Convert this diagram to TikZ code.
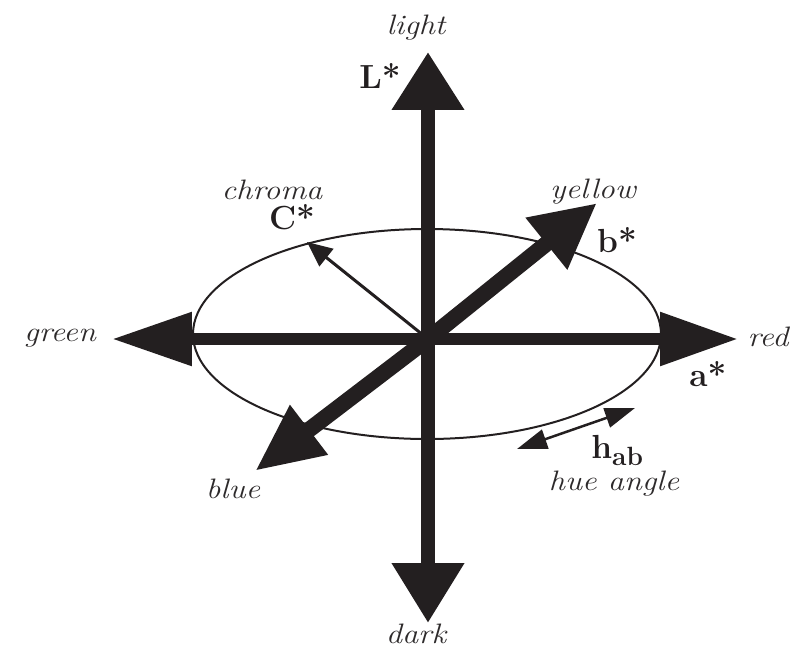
\documentclass[tikz,border=0pt]{standalone}
\usetikzlibrary{arrows.meta}

\definecolor{ink}{RGB}{35,31,32}
\definecolor{txt}{RGB}{45,42,43}

\tikzset{
  word/.style={text=txt, font=\fontsize{16}{18}\selectfont\itshape, xscale=1.15, inner sep=0pt},
  letter/.style={text=ink, font=\fontsize{19}{22}\selectfont\bfseries, inner sep=0pt},
}

\begin{document}
\begin{tikzpicture}[x=0.02cm, y=-0.02cm]

   \useasboundingbox (0,0) rectangle (795,650);

   % axes ends
   \coordinate (O) at (428,339);
   \coordinate (up) at (428,52);
   \coordinate (down) at (428,623);
   \coordinate (left) at (112,339);
   \coordinate (right) at (738,339);
   \coordinate (yel) at (597,203);
   \coordinate (blu) at (255,471);
   \coordinate (chr) at (307,242);
   \coordinate (hue1) at (517,449);
   \coordinate (hue2) at (635,408);

   \draw [ink, line width=0.04cm] (427,334) ellipse [x radius=234, y radius=105];

   \draw [ink, line width=0.28cm, {Triangle[length=1.2cm,width=1.38cm]}-{Triangle[length=1.16cm,width=1.38cm]}] (down) -- (up);
   \draw [ink, line width=0.24cm, {Triangle[length=1.6cm,width=1.02cm]}-{Triangle[length=1.56cm,width=1.02cm]}] (left) -- (right);
   \draw [ink, line width=0.32cm, {Triangle[length=1.36cm,width=1.16cm]}-{Triangle[length=1.3cm,width=1.24cm]}] (blu) -- (O) -- (yel);

   \draw [ink, line width=0.06cm, -{Triangle[length=0.5cm,width=0.44cm]}] (O) -- (chr);
   \draw [ink, line width=0.05cm, {Triangle[length=0.6cm,width=0.4cm]}-{Triangle[length=0.6cm,width=0.4cm]}] (hue1) -- (hue2);

   \node [word] (light) at (416,28) {light};
   \node [word] (dark) at (416,634) {dark};
   \node [word] (green) at (60,338) {green};
   \node [word] (red) at (768,337) {red};
   \node [word] (yellow) at (593,192) {yellow};
   \node [word] (blue) at (233,489) {blue};
   \node [word] (chroma) at (272,190) {chroma};
   \node [word] (hueangle) at (614,484) {hue angle};

   \node [letter] (Lstar) at (380,76) {L*};
   \node [letter] (Cstar) at (292,217) {C*};
   \node [letter] (bstar) at (617,240) {b*};
   \node [letter] (astar) at (708,374) {a*};
   \node [letter, anchor=base west] (hab) at (591,458) {h\raisebox{-0.5ex}{\fontsize{15}{17}\selectfont ab}};

 \end{tikzpicture}
\end{document}
